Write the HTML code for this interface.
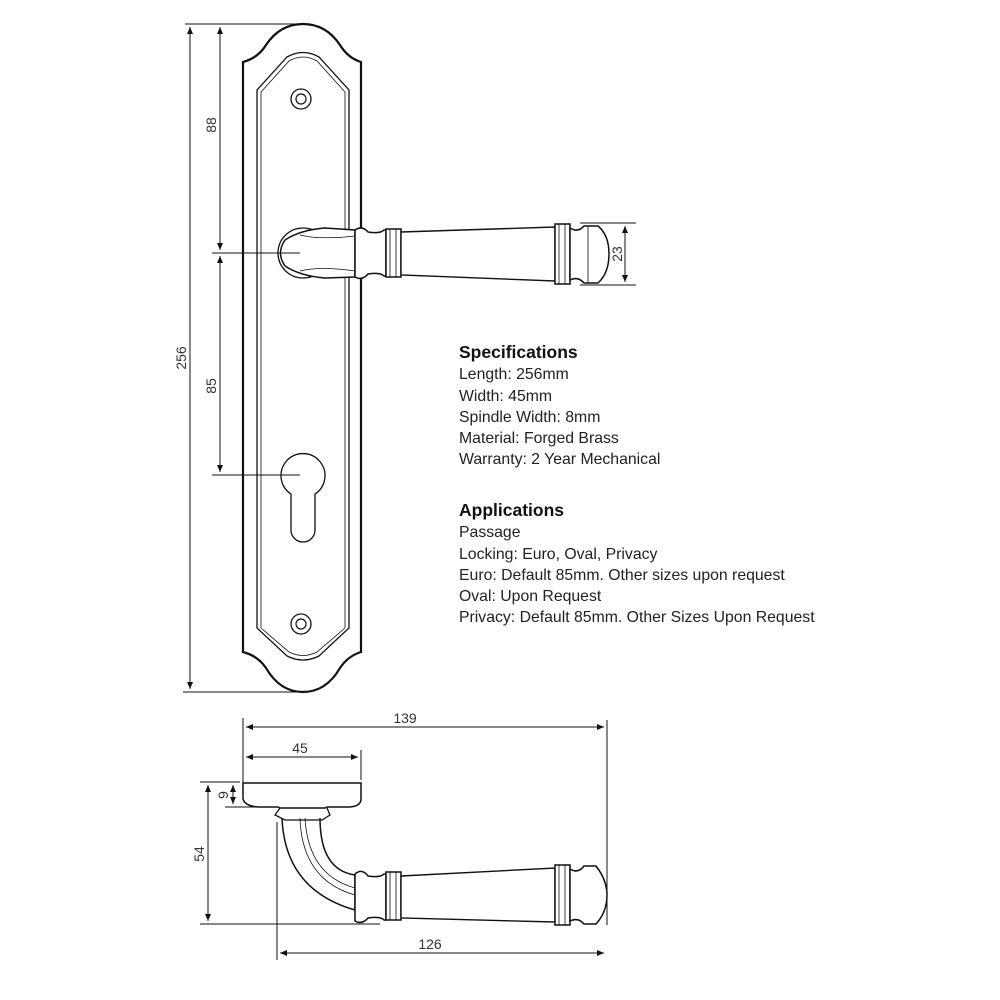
<!DOCTYPE html>
<html><head><style>
body{margin:0;background:#fff;width:1000px;height:1000px;overflow:hidden;position:relative;font-family:"Liberation Sans",sans-serif}
.t{position:absolute;left:459px;font-size:15.8px;color:#222;line-height:21.3px}
.t b{font-size:17.5px;color:#111}
</style></head><body>
<svg width="1000" height="1000" style="position:absolute;left:0;top:0" fill="none" stroke="#111" font-family="Liberation Sans, sans-serif">
<defs><marker id="a" markerWidth="8" markerHeight="8" refX="7" refY="3" orient="auto-start-reverse"><path d="M0,0L7,3L0,6z" fill="#111" stroke="none"/></marker></defs>
<!-- plate -->
<path d="M243,652 L243,62 Q258,58 266,45 Q280,24 303,24 Q326,24 340,45 Q348,58 361,62 L361,652 Q348,656 340,668 Q326,692 303,692 Q280,692 266,668 Q258,656 243,652Z" stroke-width="2.2"/>
<path d="M257,628 L257,90 L287,57 Q303,48 319,57 L349,90 L349,628 L319,656 Q303,664 287,656 Z" stroke-width="1.3"/>
<path d="M261,628 L261,92 L289,61 Q303,53 317,61 L345,92 L345,628 L317,652 Q303,659 289,652 Z" stroke-width="0.8"/>
<circle cx="301" cy="99" r="10" stroke-width="1.3"/><circle cx="301" cy="99" r="5" stroke-width="1.2"/>
<circle cx="301" cy="624" r="10" stroke-width="1.3"/><circle cx="301" cy="624" r="5" stroke-width="1.2"/>
<path d="M291,494 A22,22 0 1 1 315,494 L315,530 A12,12 0 0 1 291,530 Z" stroke-width="1.3"/>
<!-- handle front -->
<circle cx="303" cy="253" r="25" stroke-width="1.3" fill="#fff"/>
<path d="M285,240 Q300,230 325,228 L355,230 L355,277 L325,278 Q300,276 285,266 Q276,253 285,240Z" fill="#fff" stroke-width="1.5"/>
<path d="M300,235 Q320,240 355,236 M300,271 Q320,266 355,271" stroke-width="0.8"/>
<path d="M355,230 Q362,225 368,232 Q380,234 384,230 L386,230 L386,276 L384,276 Q380,272 368,274 Q362,281 355,277Z" fill="#fff" stroke-width="1.5"/>
<rect x="386" y="229" width="15" height="48" fill="#fff" stroke-width="1.5"/>
<path d="M390,229v48M396,229v48" stroke-width="0.8"/>
<path d="M401,232 L555,227 L555,281 L401,275Z" fill="#fff" stroke-width="1.4"/>
<rect x="555" y="224" width="15" height="60" fill="#fff" stroke-width="1.5"/>
<path d="M559,224v60M565,224v60" stroke-width="0.8"/>
<path d="M570,228 Q578,233 584,226 L598,226 Q609,235 609,254 Q609,273 598,283 L584,283 Q578,276 570,280Z" fill="#fff" stroke-width="1.5"/>
<path d="M588,226v57" stroke-width="0.8"/>
<!-- dims front -->
<g stroke-width="1">
<path d="M185,24H305M212,253H300M212,475H300M183,692H300M580,223H636M580,285H636"/>
<g marker-start="url(#a)" marker-end="url(#a)">
<path d="M190,27V689"/><path d="M220,27V250"/><path d="M220,256V472"/><path d="M625,226V282"/>
</g>
</g>
<g fill="#333" stroke="none" font-size="14">
<text transform="translate(186,358) rotate(-90)" text-anchor="middle">256</text>
<text transform="translate(216,125) rotate(-90)" text-anchor="middle">88</text>
<text transform="translate(216,386) rotate(-90)" text-anchor="middle">85</text>
<text transform="translate(622,254) rotate(-90)" text-anchor="middle">23</text>
<text x="405" y="723" text-anchor="middle">139</text>
<text x="300" y="753" text-anchor="middle">45</text>
<text x="430" y="949" text-anchor="middle">126</text>
<text transform="translate(228,795) rotate(-90)" text-anchor="middle">9</text>
<text transform="translate(204,854) rotate(-90)" text-anchor="middle">54</text>
</g>
<!-- side view -->
<path d="M243,783H361V799Q361,806 350,807H327L325,808H280L278,807H258Q245,806 243,799Z" stroke-width="1.5"/>
<path d="M280,808L275,815L285,820H322L330,815L327,808" stroke-width="1.3"/>
<path d="M282,818 Q285,890 355,910 L355,875 Q320,870 320,818" stroke-width="1.5"/>
<path d="M300,818 Q302,880 355,895 M305,818 Q308,875 355,888" stroke-width="0.8"/>
<path d="M355,874 Q362,868 368,876 Q380,878 384,874 L386,874 L386,920 L384,920 Q380,916 368,918 Q362,925 355,921Z" fill="#fff" stroke-width="1.5"/>
<rect x="386" y="872" width="15" height="48" fill="#fff" stroke-width="1.5"/>
<path d="M390,872v48M396,872v48" stroke-width="0.8"/>
<path d="M401,876 L555,868 L555,922 L401,918Z" fill="#fff" stroke-width="1.4"/>
<rect x="555" y="865" width="15" height="60" fill="#fff" stroke-width="1.5"/>
<path d="M559,865v60M565,865v60" stroke-width="0.8"/>
<path d="M570,869 Q578,874 584,866 L596,866 Q607,880 607,895 Q607,912 596,924 L584,924 Q578,917 570,921Z" fill="#fff" stroke-width="1.5"/>
<g stroke-width="1">
<path d="M243,718V783M607,720V925M361,750V780M277,822V960M200,782H240M200,924H380M225,807H260"/>
<g marker-start="url(#a)" marker-end="url(#a)">
<path d="M246,727H604"/><path d="M246,757H358"/><path d="M280,953H604"/><path d="M208,785V921"/><path d="M233,785V804"/>
</g>
</g>
</svg>
<div class="t" style="top:342px"><b>Specifications</b><br>Length: 256mm<br>Width: 45mm<br>Spindle Width: 8mm<br>Material: Forged Brass<br>Warranty: 2 Year Mechanical</div>
<div class="t" style="top:500px"><b>Applications</b><br>Passage<br>Locking: Euro, Oval, Privacy<br>Euro: Default 85mm. Other sizes upon request<br>Oval: Upon Request<br>Privacy: Default 85mm. Other Sizes Upon Request</div>
</body></html>
